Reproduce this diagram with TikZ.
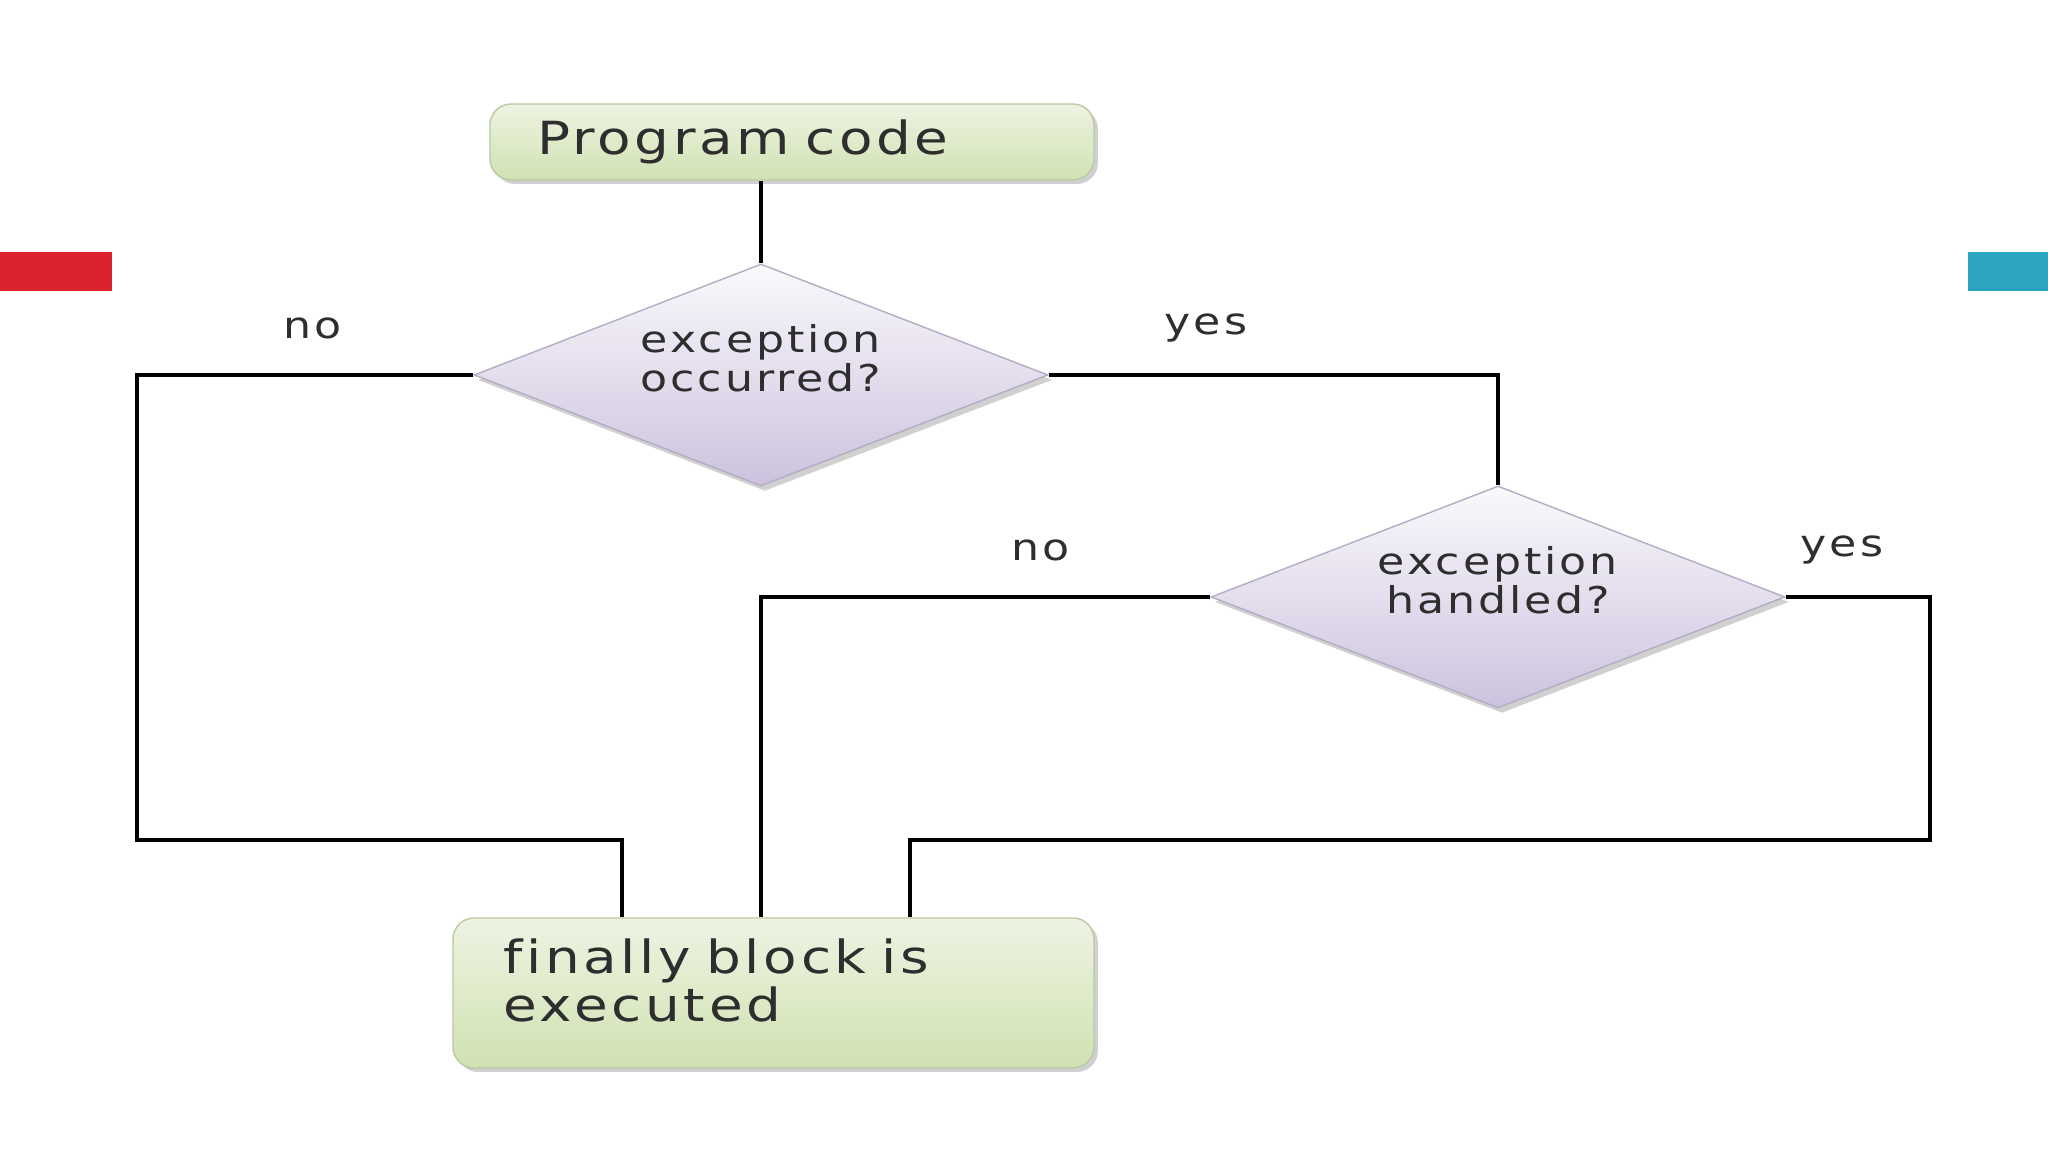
\documentclass[tikz,border=0pt]{standalone}
\usepackage{fontspec}
\setmainfont{DejaVu Sans}[FakeStretch=1.2, LetterSpace=8, Ligatures=NoCommon]
\usepackage{tikz}
\usetikzlibrary{shapes.geometric, shadows}

\definecolor{boxtop}{HTML}{EEF3E2}
\definecolor{boxbot}{HTML}{D0E2B2}
\definecolor{boxline}{HTML}{B9C9A3}
\definecolor{diatop}{HTML}{FAF9FC}
\definecolor{diabot}{HTML}{CDC2DE}
\definecolor{dialine}{HTML}{B3ADC3}
\definecolor{inktext}{HTML}{2E2E2E}
\definecolor{barred}{HTML}{DB222D}
\definecolor{barteal}{HTML}{2BA3C1}

\begin{document}
\begin{tikzpicture}[
        stepbox/.style={rectangle, rounded corners=6pt, draw=boxline, top color=boxtop, bottom color=boxbot,
            drop shadow={shadow xshift=0.04cm, shadow yshift=-0.04cm, opacity=0.3, fill=black!60},
            text=inktext, font=\fontsize{13}{13.5}\selectfont, align=left},
        decision/.style={diamond, draw=dialine, top color=diatop, bottom color=diabot, aspect=2.6,
            minimum width=5.74cm, minimum height=2.22cm, inner sep=0pt,
            drop shadow={shadow xshift=0.04cm, shadow yshift=-0.05cm, opacity=0.3, fill=black!60},
            text=inktext, font=\fontsize{10.5}{11}\selectfont, align=center},
        answer/.style={text=inktext, font=\fontsize{10.5}{12.5}\selectfont},
        flow/.style={draw=black, line width=1.1pt}
    ]
        \useasboundingbox[fill=white] (0, 0) rectangle (20.48, 11.52);
        \fill[barred] (0, 8.61) rectangle (1.12, 9.00);
        \fill[barteal] (19.68, 8.61) rectangle (20.48, 9.00);

        \node[stepbox, minimum width=6.04cm, minimum height=0.76cm, text width=5.1cm] (code) at (7.92, 10.10) {Program code};
        \node[decision] (occ) at (7.61, 7.77) {exception\\occurred?\\[-0.05cm]\mbox{}};
        \node[decision] (hnd) at (14.98, 5.55) {exception\\handled?\\[-0.05cm]\mbox{}};
        \node[stepbox, minimum width=6.41cm, minimum height=1.50cm, text width=5.4cm] (fin) at (7.735, 1.59) {finally block is\\executed\\[-0.22cm]\mbox{}};

        \node[answer] (occno) at (3.13, 8.24) {no};
        \node[answer] (occyes) at (12.06, 8.24) {yes};
        \node[answer] (hndno) at (10.41, 6.02) {no};
        \node[answer] (hndyes) at (18.42, 6.02) {yes};

        \coordinate (leftturn) at (1.37, 3.12);
        \coordinate (rightturn) at (19.30, 3.12);
        \coordinate (finleft) at ([xshift=1.70cm]fin.north west);
        \coordinate (finright) at ([xshift=-1.85cm]fin.north east);

        \draw[flow] (occ.north) -- (occ.north |- code.south);
        \draw[flow] (occ.west) -| (leftturn) -| (finleft);
        \draw[flow] (occ.east) -| (hnd.north);
        \draw[flow] (hnd.west) -| (fin.north -| occ.south);
        \draw[flow] (hnd.east) -| (rightturn) -| (finright);
    \end{tikzpicture}
\end{document}
